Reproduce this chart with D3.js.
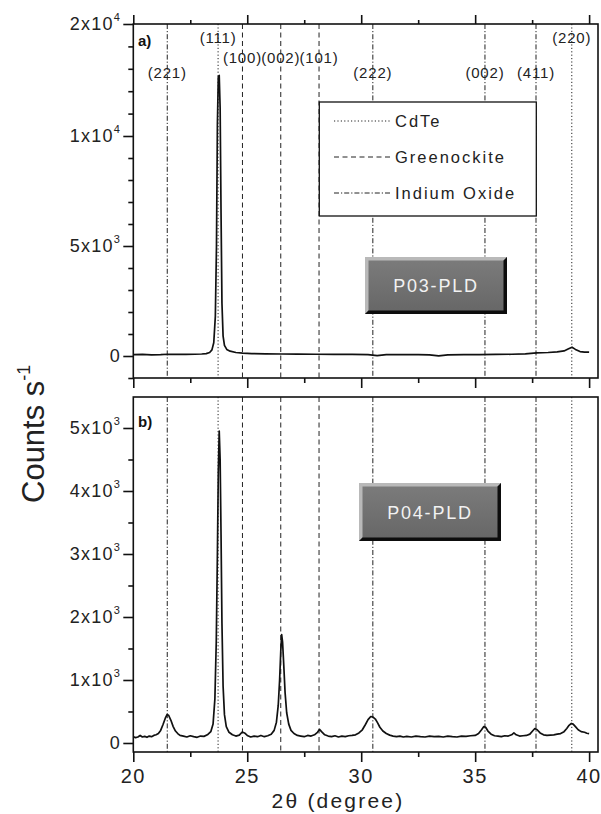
<!DOCTYPE html>
<html>
<head>
<meta charset="utf-8">
<script src="https://cdn.jsdelivr.net/npm/d3@7"></script>
<style>
  body { margin: 0; background: #fff; }
  svg { display: block; font-family: "Liberation Sans", Arial, sans-serif; }
</style>
</head>
<body>
<script>
// scan a) P03-PLD : 2theta (deg) / counts per second
var thetaA = [20.0, 20.4, 20.8, 21.2, 21.5, 21.9, 22.3, 22.7, 23.0, 23.2, 23.35, 23.45, 23.53, 23.6, 23.65,
  23.69, 23.73, 23.77, 23.81, 23.85, 23.89, 23.94, 24.0, 24.1, 24.25, 24.5, 24.8, 25.2, 25.8, 26.5,
  27.2, 28.0, 28.8, 29.6, 30.3, 30.7, 31.1, 31.8, 32.5, 33.0, 33.4, 33.8, 34.5, 35.2, 35.9,
  36.6, 37.2, 37.7, 38.2, 38.6, 38.9, 39.1, 39.25, 39.4, 39.6, 39.8, 40.0];
var countsA = [60, 70, 55, 65, 80, 70, 75, 80, 90, 110, 160, 280, 600, 1800, 5000,
  11000, 15300, 15400, 12500, 6500, 2400, 900, 480, 300, 220, 160, 130, 110, 100, 90,
  85, 80, 75, 70, 60, 20, 60, 65, 60, 50, 10, 55, 60, 65, 70,
  80, 100, 140, 160, 190, 230, 330, 400, 300, 200, 180, 175];

// scan b) P04-PLD
var thetaB = [20.0, 20.1, 20.2, 20.3, 20.4, 20.5, 20.6, 20.7, 20.8, 20.9, 21.0, 21.1, 21.2, 21.3, 21.4,
  21.48, 21.55, 21.65, 21.75, 21.85, 21.95, 22.05, 22.2, 22.35, 22.5, 22.65, 22.8, 22.95, 23.1, 23.25,
  23.4, 23.5, 23.58, 23.64, 23.69, 23.73, 23.77, 23.81, 23.85, 23.89, 23.94, 24.0, 24.08, 24.2, 24.35,
  24.5, 24.65, 24.78, 24.88, 25.0, 25.15, 25.3, 25.45, 25.6, 25.75, 25.9, 26.05, 26.18, 26.28, 26.36,
  26.42, 26.47, 26.51, 26.55, 26.6, 26.66, 26.73, 26.82, 26.92, 27.05, 27.2, 27.35, 27.5, 27.65, 27.8,
  27.95, 28.08, 28.17, 28.26, 28.4, 28.55, 28.7, 28.85, 29.0, 29.15, 29.3, 29.45, 29.6, 29.75, 29.9,
  30.05, 30.18, 30.3, 30.42, 30.52, 30.62, 30.72, 30.82, 30.95, 31.1, 31.25, 31.4, 31.55, 31.7, 31.85,
  32.0, 32.2, 32.4, 32.6, 32.8, 33.0, 33.2, 33.4, 33.6, 33.8, 34.0, 34.2, 34.4, 34.6, 34.8,
  35.0, 35.15, 35.28, 35.38, 35.46, 35.56, 35.7, 35.85, 36.0, 36.15, 36.3, 36.45, 36.6, 36.7, 36.8,
  36.95, 37.1, 37.25, 37.4, 37.52, 37.62, 37.72, 37.85, 38.0, 38.15, 38.3, 38.45, 38.6, 38.75, 38.9,
  39.02, 39.12, 39.22, 39.3, 39.4, 39.52, 39.65, 39.8, 39.9, 40.0];
var countsB = [100, 85, 95, 120, 95, 105, 90, 110, 100, 120, 130, 150, 200, 290, 390,
  450, 440, 360, 260, 190, 150, 120, 110, 95, 115, 100, 90, 110, 105, 130,
  180, 300, 700, 1600, 3000, 4300, 4950, 4500, 3300, 1900, 900, 450, 260, 170, 130,
  110, 125, 175, 160, 120, 95, 110, 100, 120, 100, 115, 140, 200, 330, 600,
  1000, 1450, 1720, 1600, 1250, 800, 480, 300, 200, 150, 120, 110, 100, 120, 110,
  130, 170, 215, 180, 130, 110, 100, 115, 95, 110, 100, 115, 120, 130, 160,
  210, 290, 370, 420, 410, 380, 320, 250, 190, 150, 125, 110, 100, 110, 95,
  105, 95, 110, 100, 95, 110, 100, 105, 95, 110, 100, 95, 110, 105, 115,
  120, 150, 210, 260, 250, 190, 140, 115, 110, 100, 115, 110, 130, 160, 130,
  110, 115, 120, 140, 190, 230, 210, 160, 130, 120, 125, 130, 140, 150, 180,
  230, 280, 310, 300, 260, 210, 180, 170, 155, 150];

// reference lines (2theta) and their hkl labels
var cdtePos = [23.72, 39.24];
var cdteHkl = ["(111)", "(220)"];
var greenPos = [24.79, 26.47, 28.15];
var greenHkl = ["(100)", "(002)", "(101)"];
var indiumPos = [21.49, 30.51, 35.43, 37.67];
var indiumHkl = ["(221)", "(222)", "(002)", "(411)"];

var legendNames = ["CdTe", "Greenockite", "Indium Oxide"];
var sampleNames = ["P03-PLD", "P04-PLD"];

var xTicks = [20, 25, 30, 35, 40];
var xMinor = [22.5, 27.5, 32.5, 37.5];
var yTicksA = [0, 5000, 10000, 20000];
var yLabelsA = [["0", ""], ["5x10", "3"], ["1x10", "4"], ["2x10", "4"]];
var yMinorA = [-1000, 1000, 2000, 3000, 4000, 6000, 7000, 8000, 9000, 12000, 14000, 16000, 18000];
var yTicksB = [0, 1000, 2000, 3000, 4000, 5000];
var yLabelsB = [["0", ""], ["1x10", "3"], ["2x10", "3"], ["3x10", "3"], ["4x10", "3"], ["5x10", "3"]];
var yMinorB = [500, 1500, 2500, 3500, 4500];

var width = 601, height = 814;
var left = 133.3, right = 598;

var svg = d3.select("body").append("svg")
  .attr("width", width)
  .attr("height", height);

var x = d3.scaleLinear().domain([20, 40.39]).range([left, right]);

// top panel uses a broken scale: equal spacing for 0, 5e3, 1e4, 2e4
var yA = d3.scaleLinear().domain([-1000, 0, 5000, 10000, 20000]).range([378, 356, 246, 136, 24]);
var yB = d3.scaleLinear().domain([-143, 5492]).range([752, 397]);

var styles = {
  cdte: "1.2,2.2",
  green: "5,3.5",
  indium: "5,2,1.2,2"
};

var refs = [];
cdtePos.forEach(function (p, i) { refs.push({ pos: p, hkl: cdteHkl[i], dash: styles.cdte, kind: "cdte" }); });
greenPos.forEach(function (p, i) { refs.push({ pos: p, hkl: greenHkl[i], dash: styles.green, kind: "green" }); });
indiumPos.forEach(function (p, i) { refs.push({ pos: p, hkl: indiumHkl[i], dash: styles.indium, kind: "indium" }); });

// gradient for the bevelled sample tags
var defs = svg.append("defs");
var grad = defs.append("linearGradient").attr("id", "tag").attr("x1", 0).attr("y1", 0).attr("x2", 0).attr("y2", 1);
grad.append("stop").attr("offset", "0%").attr("stop-color", "#7c7c7c");
grad.append("stop").attr("offset", "100%").attr("stop-color", "#666");

function tickAxis(g, axis, tx, ty) {
  var a = g.append("g").attr("transform", "translate(" + tx + "," + ty + ")").call(axis);
  a.select(".domain").remove();
  a.selectAll("line").attr("stroke", "#111").attr("stroke-width", 1.6);
  return a;
}

function panel(y, top, bottom, data, opts) {
  var g = svg.append("g");

  // reference lines
  g.selectAll("line.ref").data(refs).enter().append("line")
    .attr("class", "ref")
    .attr("x1", function (d) { return x(d.pos); })
    .attr("x2", function (d) { return x(d.pos); })
    .attr("y1", top)
    .attr("y2", bottom)
    .attr("stroke", "#222")
    .attr("stroke-width", 1)
    .attr("stroke-dasharray", function (d) { return d.dash; });

  // trace
  var line = d3.line()
    .x(function (d) { return x(d[0]); })
    .y(function (d) { return y(d[1]); });
  g.append("path")
    .datum(data)
    .attr("d", line)
    .attr("fill", "none")
    .attr("stroke", "#111")
    .attr("stroke-width", 1.7)
    .attr("stroke-linejoin", "round");

  // frame
  g.append("rect")
    .attr("x", left).attr("y", top)
    .attr("width", right - left).attr("height", bottom - top)
    .attr("fill", "none").attr("stroke", "#111").attr("stroke-width", 1.6);

  // left axis ticks
  tickAxis(g, d3.axisLeft(y).tickValues(opts.yMajor).tickSize(10).tickFormat(""), left, 0);
  tickAxis(g, d3.axisLeft(y).tickValues(opts.yMinor).tickSize(5).tickFormat(""), left, 0);

  // y tick labels with superscripts
  var lab = g.selectAll("text.ylab").data(opts.yMajor).enter().append("text")
    .attr("class", "ylab")
    .attr("x", 121)
    .attr("y", function (d) { return y(d) + 6; })
    .attr("text-anchor", "end")
    .attr("font-size", 18)
    .attr("letter-spacing", 1.2)
    .attr("fill", "#222");
  lab.append("tspan").text(function (d, i) { return opts.yLabels[i][0]; });
  lab.append("tspan")
    .attr("font-size", 11)
    .attr("dy", -9)
    .text(function (d, i) { return opts.yLabels[i][1]; });

  // bottom axis ticks (outward)
  tickAxis(g, d3.axisBottom(x).tickValues(xTicks).tickSize(10).tickFormat(""), 0, bottom);
  tickAxis(g, d3.axisBottom(x).tickValues(xMinor).tickSize(5).tickFormat(""), 0, bottom);

  if (opts.topTicks) {
    tickAxis(g, d3.axisTop(x).tickValues(xTicks).tickSize(9).tickFormat(""), 0, top);
    tickAxis(g, d3.axisTop(x).tickValues(xMinor).tickSize(4).tickFormat(""), 0, top);
  }

  if (opts.xLabels) {
    g.selectAll("text.xlab").data(xTicks).enter().append("text")
      .attr("class", "xlab")
      .attr("x", function (d) { return x(d); })
      .attr("y", bottom + 31)
      .attr("text-anchor", "middle")
      .attr("font-size", 20)
      .attr("letter-spacing", 1.5)
      .attr("fill", "#222")
      .text(function (d) { return d; });
  }

  g.append("text")
    .attr("x", 138).attr("y", opts.letterY)
    .attr("font-size", 15).attr("font-weight", "bold")
    .attr("fill", "#111")
    .text(opts.letter);

  return g;
}

function tag(g, bx, by, bw, bh, name) {
  var b = 3.5;
  g.append("rect").attr("x", bx).attr("y", by).attr("width", bw).attr("height", bh).attr("fill", "url(#tag)");
  // light bevel top/left
  g.append("polygon")
    .attr("points", [[bx, by], [bx + bw, by], [bx + bw - b, by + b], [bx + b, by + b], [bx + b, by + bh - b], [bx, by + bh]].join(" "))
    .attr("fill", "#b9b9b9");
  // dark shadow right/bottom
  g.append("polygon")
    .attr("points", [[bx + bw, by], [bx + bw, by + bh], [bx, by + bh], [bx + b, by + bh - b], [bx + bw - b, by + bh - b], [bx + bw - b, by + b]].join(" "))
    .attr("fill", "#0d0d0d");
  g.append("text")
    .attr("x", bx + bw / 2).attr("y", by + bh / 2 + 6.5)
    .attr("text-anchor", "middle")
    .attr("font-size", 18)
    .attr("letter-spacing", 1.8)
    .attr("fill", "#f2f2f2")
    .text(name);
}

var scanA = thetaA.map(function (t, i) { return [t, countsA[i]]; });
var scanB = thetaB.map(function (t, i) { return [t, countsB[i]]; });

var gA = panel(yA, 24, 378, scanA, {
  yMajor: yTicksA, yLabels: yLabelsA, yMinor: yMinorA,
  topTicks: true, xLabels: false, letter: "a)", letterY: 46
});
var gB = panel(yB, 397, 752, scanB, {
  yMajor: yTicksB, yLabels: yLabelsB, yMinor: yMinorB,
  topTicks: false, xLabels: true, letter: "b)", letterY: 427
});

// hkl labels in panel a
var labelY = { cdte: 43, green: 63, indium: 78 };
gA.selectAll("text.hkl").data(refs).enter().append("text")
  .attr("class", "hkl")
  .attr("x", function (d) { return x(d.pos); })
  .attr("y", function (d) { return labelY[d.kind]; })
  .attr("text-anchor", "middle")
  .attr("font-size", 15)
  .attr("letter-spacing", 0.8)
  .attr("fill", "#222")
  .text(function (d) { return d.hkl; });

// legend
var lg = gA.append("g");
lg.append("rect").attr("x", 319.3).attr("y", 102).attr("width", 217).attr("height", 114)
  .attr("fill", "#fff").attr("stroke", "#111").attr("stroke-width", 1.3);
var legDash = [styles.cdte, styles.green, styles.indium];
legendNames.forEach(function (n, i) {
  var cy = 121 + i * 36;
  lg.append("line").attr("x1", 334).attr("x2", 390).attr("y1", cy).attr("y2", cy)
    .attr("stroke", "#222").attr("stroke-width", 1).attr("stroke-dasharray", legDash[i]);
  lg.append("text").attr("x", 395).attr("y", cy + 6)
    .attr("font-size", 16.5).attr("letter-spacing", 2)
    .attr("fill", "#222").text(n);
});

tag(gA, 365, 257, 142, 57, sampleNames[0]);
tag(gB, 359, 483, 142, 58, sampleNames[1]);

// axis titles
var yt = svg.append("text")
  .attr("transform", "translate(44,503) rotate(-90)")
  .attr("font-size", 31)
  .attr("fill", "#222");
yt.append("tspan").text("Counts s");
yt.append("tspan").attr("font-size", 18).attr("dy", -14).text("-1");

svg.append("text")
  .attr("x", 338).attr("y", 808)
  .attr("text-anchor", "middle")
  .attr("font-size", 21)
  .attr("letter-spacing", 2.2)
  .attr("fill", "#222")
  .text("2\u03b8 (degree)");
</script>
</body>
</html>
